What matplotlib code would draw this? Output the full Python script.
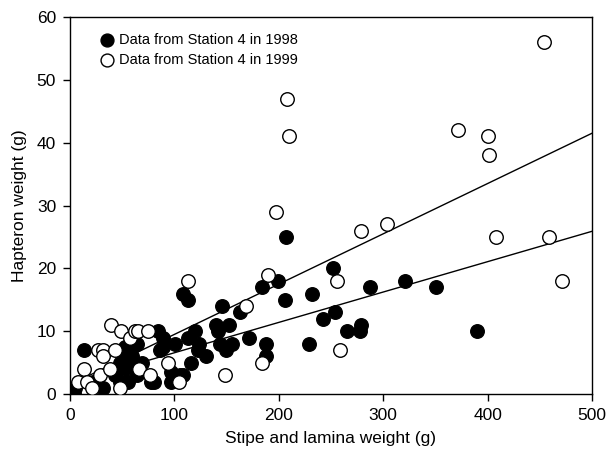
import matplotlib.pyplot as plt
import numpy as np

plt.rcParams['font.family'] = ['Liberation Sans', 'DejaVu Sans']

# Station 4, 1998 (filled)
x98 = [4, 5, 13, 22, 32, 43, 48, 48, 53, 53, 54, 56, 58, 59, 64, 64, 69, 78, 80, 84,
       86, 89, 89, 97, 97, 99, 101, 105, 108, 108, 113, 113, 116, 120, 123, 124, 130,
       140, 142, 144, 146, 149, 152, 155, 163, 171, 184, 188, 188, 199, 206, 207, 229,
       232, 242, 252, 254, 265, 278, 279, 287, 321, 351, 390]
y98 = [0, 1, 7, 2, 1, 3, 5, 2, 4, 7.5, 6, 2, 5, 6, 3, 8, 5, 2, 2, 10,
       7, 9, 7.5, 3.5, 2, 3, 8, 3, 3, 16, 15, 9, 5, 10, 7, 8, 6,
       11, 10, 8, 14, 7, 11, 8, 13, 9, 17, 8, 6, 18, 15, 25, 8,
       16, 12, 20, 13, 10, 10, 11, 17, 18, 17, 10]

# Station 4, 1999 (open)
x99 = [8, 13, 16, 21, 27, 29, 32, 32, 38, 39, 43, 48, 49, 57, 62, 65, 66, 75, 77, 94,
       104, 113, 148, 169, 184, 190, 197, 208, 210, 256, 259, 279, 304, 372, 400, 401,
       408, 454, 459, 471]
y99 = [2, 4, 2, 1, 7, 3, 7, 6, 4, 11, 7, 1, 10, 9, 10, 10, 4, 10, 3, 5,
       2, 18, 3, 14, 5, 19, 29, 47, 41, 18, 7, 26, 27, 42, 41, 38,
       25, 56, 25, 18]

# regression lines (intercept, slope)
fit98 = (1.75, 0.0483)
fit99 = (1.5, 0.080)

fig = plt.figure(figsize=(6.09, 4.53), dpi=100)
ax = fig.add_axes([0.115, 0.130, 0.857, 0.8325])

xl = np.array([0, 500])
ax.plot(xl, fit98[0] + fit98[1] * xl, color='black', lw=1, zorder=1)
ax.plot(xl, fit99[0] + fit99[1] * xl, color='black', lw=1, zorder=1)

ax.scatter(x98, y98, s=95, c='black', edgecolors='black', linewidths=1,
           zorder=2, label='Data from Station 4 in 1998')
ax.scatter(x99, y99, s=95, c='white', edgecolors='black', linewidths=1,
           zorder=3, label='Data from Station 4 in 1999')

ax.set_xlim(0, 500)
ax.set_ylim(0, 60)
ax.set_xticks(range(0, 501, 100))
ax.set_yticks(range(0, 61, 10))
ax.tick_params(direction='out', length=5, width=1, labelsize=12.5, pad=5)
for s in ax.spines.values():
    s.set_linewidth(1)

ax.set_xlabel('Stipe and lamina weight (g)', fontsize=12.5)
ax.set_ylabel('Hapteron weight (g)', fontsize=12.5)
ax.xaxis.set_label_coords(0.5, -0.098)
ax.yaxis.set_label_coords(-0.082, 0.5)

ax.legend(loc='upper left', bbox_to_anchor=(0.057, 0.958), frameon=False,
          fontsize=10.5, handlelength=1.0, handletextpad=0.3, markerscale=0.95,
          borderaxespad=0, borderpad=0, labelspacing=0.4, scatterpoints=1)

fig.savefig('out.png', dpi=100)
